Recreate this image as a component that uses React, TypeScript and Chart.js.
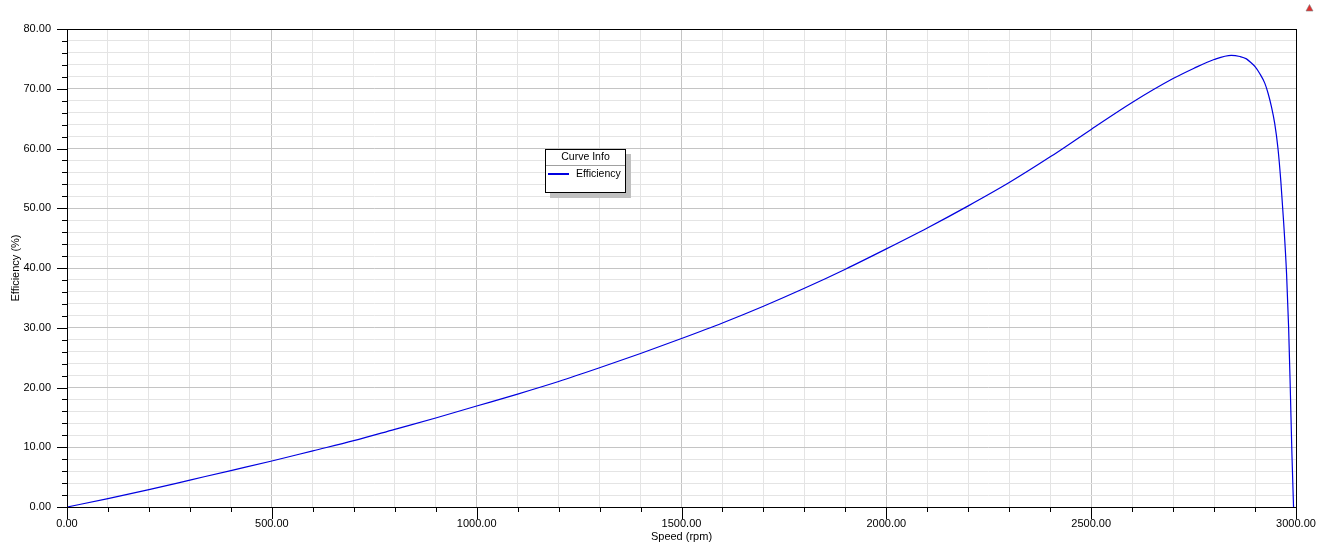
import React, { useEffect, useRef } from 'react';
import { Chart, registerables } from 'chart.js';

Chart.register(...registerables);

const speedRpm = [
  0, 100, 200, 300, 400, 500, 600, 700, 800, 900, 1000, 1100, 1200, 1300, 1400,
  1500, 1600, 1700, 1800, 1900, 2000, 2100, 2200, 2300, 2400, 2500, 2600, 2700,
  2750, 2800, 2842, 2863, 2879, 2891, 2900, 2911, 2924, 2932, 2940, 2948, 2956,
  2963, 2970, 2977, 2982, 2986, 2990, 2994,
];
const efficiencyPct = [
  0, 1.4, 2.9, 4.5, 6.1, 7.7, 9.4, 11.1, 13.0, 14.9, 16.9, 18.9, 21.0, 23.3, 25.7,
  28.2, 30.8, 33.6, 36.6, 39.8, 43.2, 46.7, 50.4, 54.3, 58.6, 63.2, 67.7, 71.7,
  73.4, 74.9, 75.6, 75.4, 75.0, 74.3, 73.7, 72.6, 70.9, 69.2, 67.0, 64.2, 60.0,
  54.5, 47.5, 39.0, 30.0, 20.0, 9.0, 0,
];

const xMin = 0;
const xMax = 3000;
const xTickStep = 100;
const xLabelStep = 500;
const yMin = 0;
const yMax = 80;
const yTickStep = 2;
const yLabelStep = 10;

const seriesName = 'Efficiency';
const legendTitle = 'Curve Info';
const xTitle = 'Speed (rpm)';
const yTitle = 'Efficiency (%)';

const FONT = "'Liberation Sans', Arial, Helvetica, sans-serif";
const LINE_COLOR = '#0000e0';
const MAJOR_GRID = '#c4c4c4';
const MINOR_GRID = '#e4e4e4';

const isMultiple = (v: number, step: number) => Math.abs(v / step - Math.round(v / step)) < 1e-6;

const framePlugin = {
  id: 'frame',
  afterDraw(chart: any) {
    const { ctx, chartArea: a, scales } = chart;
    ctx.save();
    ctx.strokeStyle = '#000';
    ctx.lineWidth = 1;
    // x tick marks
    const xs = scales.x;
    for (const t of xs.ticks) {
      const px = Math.round(xs.getPixelForValue(t.value)) + 0.5;
      const len = isMultiple(t.value, xLabelStep) ? 12 : 5;
      ctx.beginPath();
      ctx.moveTo(px, a.bottom);
      ctx.lineTo(px, a.bottom + len);
      ctx.stroke();
    }
    // y tick marks
    const ys = scales.y;
    for (const t of ys.ticks) {
      const py = Math.round(ys.getPixelForValue(t.value)) + 0.5;
      const len = isMultiple(t.value, yLabelStep) ? 10 : 5;
      ctx.beginPath();
      ctx.moveTo(a.left - len, py);
      ctx.lineTo(a.left, py);
      ctx.stroke();
    }
    // frame
    ctx.strokeRect(Math.round(a.left) + 0.5, Math.round(a.top) + 0.5, Math.round(a.right - a.left), Math.round(a.bottom - a.top));

    // legend box
    const bx = 545, by = 149, bw = 80, bh = 43;
    ctx.fillStyle = '#c0c0c0';
    ctx.fillRect(bx + 5, by + 5, bw + 1, bh + 1);
    ctx.fillStyle = '#ffffff';
    ctx.fillRect(bx, by, bw, bh);
    ctx.strokeStyle = '#000';
    ctx.strokeRect(bx + 0.5, by + 0.5, bw, bh);
    ctx.strokeStyle = '#a0a0a0';
    ctx.beginPath();
    ctx.moveTo(bx + 1, by + 16.5);
    ctx.lineTo(bx + bw, by + 16.5);
    ctx.stroke();
    ctx.fillStyle = '#000';
    ctx.font = `10.5px ${FONT}`;
    ctx.textAlign = 'center';
    ctx.textBaseline = 'middle';
    ctx.fillText(legendTitle, bx + bw / 2 + 0.5, by + 8.5);
    ctx.strokeStyle = LINE_COLOR;
    ctx.lineWidth = 2;
    ctx.beginPath();
    ctx.moveTo(bx + 3, by + 25);
    ctx.lineTo(bx + 24, by + 25);
    ctx.stroke();
    ctx.textAlign = 'left';
    ctx.fillText(seriesName, bx + 31, by + 25.5);

    // small red marker in top-right corner
    ctx.beginPath();
    ctx.moveTo(1309.5, 4.5);
    ctx.lineTo(1313, 11);
    ctx.lineTo(1306, 11);
    ctx.closePath();
    ctx.fillStyle = '#e03030';
    ctx.fill();
    ctx.strokeStyle = '#808080';
    ctx.lineWidth = 0.6;
    ctx.stroke();
    ctx.restore();
  },
};

export default function App() {
  const canvasRef = useRef<HTMLCanvasElement | null>(null);

  useEffect(() => {
    const canvas = canvasRef.current;
    if (!canvas) return;
    const points = speedRpm.map((s, i) => ({ x: s, y: efficiencyPct[i] }));
    const tickFont = { family: FONT, size: 11 };
    const chart = new Chart(canvas, {
      type: 'line',
      data: {
        datasets: [
          {
            label: seriesName,
            data: points,
            borderColor: LINE_COLOR,
            backgroundColor: LINE_COLOR,
            borderWidth: 1.2,
            pointRadius: 0,
            cubicInterpolationMode: 'monotone',
            fill: false,
          },
        ],
      },
      options: {
        animation: false,
        responsive: true,
        maintainAspectRatio: false,
        devicePixelRatio: 1,
        layout: { padding: { top: 29, right: 30, left: 0, bottom: 0 } },
        plugins: {
          legend: { display: false },
          tooltip: { enabled: false },
        },
        scales: {
          x: {
            type: 'linear',
            min: xMin,
            max: xMax,
            afterFit: (s: any) => {
              s.height = 39;
            },
            ticks: {
              stepSize: xTickStep,
              autoSkip: false,
              maxRotation: 0,
              minRotation: 0,
              padding: 5,
              color: '#000',
              font: tickFont,
              callback: (v: any) => (isMultiple(Number(v), xLabelStep) ? Number(v).toFixed(2) : ''),
            },
            grid: {
              color: (c: any) => (isMultiple(c.tick?.value ?? 0, xLabelStep) ? MAJOR_GRID : MINOR_GRID),
              lineWidth: 1,
              tickLength: 5,
              tickColor: 'rgba(0,0,0,0)',
            },
            border: { display: false },
            title: {
              display: true,
              text: xTitle,
              color: '#000',
              font: { family: FONT, size: 11 },
              padding: { top: 0, bottom: 2 },
            },
          },
          y: {
            type: 'linear',
            min: yMin,
            max: yMax,
            afterFit: (s: any) => {
              s.width = 67;
            },
            ticks: {
              stepSize: yTickStep,
              autoSkip: false,
              padding: 6,
              color: '#000',
              font: tickFont,
              callback: (v: any) => (isMultiple(Number(v), yLabelStep) ? Number(v).toFixed(2) : ''),
            },
            grid: {
              color: (c: any) => (isMultiple(c.tick?.value ?? 0, yLabelStep) ? MAJOR_GRID : MINOR_GRID),
              lineWidth: 1,
              tickLength: 10,
              tickColor: 'rgba(0,0,0,0)',
            },
            border: { display: false },
            title: {
              display: true,
              text: yTitle,
              color: '#000',
              font: { family: FONT, size: 11 },
              padding: { top: 9, bottom: 0 },
            },
          },
        },
      },
      plugins: [framePlugin],
    } as any);
    return () => chart.destroy();
  }, []);

  return (
    <div style={{ position: 'absolute', left: 0, top: 0, width: 1326, height: 546 }}>
      <canvas ref={canvasRef} />
    </div>
  );
}
